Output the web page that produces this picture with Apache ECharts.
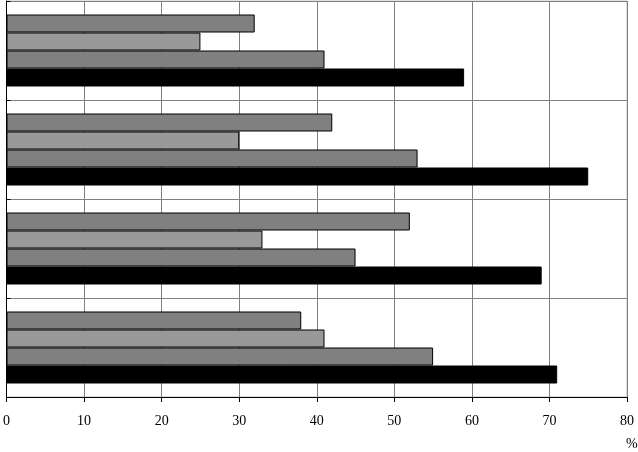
<!DOCTYPE html>
<html><head><meta charset="utf-8">
<script src="https://cdn.jsdelivr.net/npm/echarts@6/dist/echarts.min.js"></script>
<style>html,body{margin:0;padding:0;background:#fff}#c{width:638px;height:452px}</style>
</head><body><div id="c"></div>
<script>
const categories = ['A', 'B', 'C', 'D'];
const series1 = [32, 42, 52, 38];
const series2 = [25, 30, 33, 41];
const series3 = [41, 53, 45, 55];
const series4 = [59, 75, 69, 71];
const xTicks = [0, 10, 20, 30, 40, 50, 60, 70, 80];

const colors = ['#808080', '#999999', '#808080', '#000000'];
const chart = echarts.init(document.getElementById('c'));
const mk = (d, i) => ({
  type: 'bar', data: d, barWidth: 18, barGap: '0%',
  itemStyle: { color: colors[i], borderColor: '#000', borderWidth: 1 },
  animation: false
});
chart.setOption({
  animation: false,
  grid: { left: 5, right: 11, top: 1, bottom: 55, show: true, borderColor: '#c0c0c0', borderWidth: 1 },
  xAxis: {
    type: 'value', min: xTicks[0], max: xTicks[xTicks.length - 1], interval: 10,
    axisLine: { show: true, lineStyle: { color: '#000' } },
    axisTick: { show: true, length: 5, lineStyle: { color: '#000' } },
    splitLine: { show: true, lineStyle: { color: '#808080', width: 1 } },
    axisLabel: { fontFamily: 'Liberation Serif', fontSize: 14, color: '#000', margin: 17 }
  },
  yAxis: {
    type: 'category', data: categories, inverse: true,
    axisLine: { show: true, lineStyle: { color: '#000' } },
    axisTick: { show: true, length: 4, inside: true, lineStyle: { color: '#000' } },
    axisLabel: { show: false },
    splitLine: { show: true, lineStyle: { color: '#808080', width: 1 } }
  },
  graphic: [{ type: 'text', left: 626, top: 437, style: { text: '%', font: '14px "Liberation Serif"', fill: '#000' } }],
  series: [mk(series1, 0), mk(series2, 1), mk(series3, 2), mk(series4, 3)]
});
</script></body></html>
